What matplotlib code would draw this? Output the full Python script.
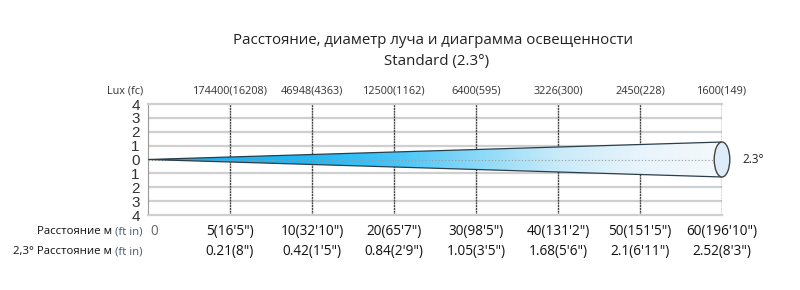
import numpy as np
import matplotlib.pyplot as plt
from matplotlib.patches import Polygon, Ellipse
from matplotlib.colors import LinearSegmentedColormap

plt.rcParams['font.family'] = ['Open Sans', 'DejaVu Sans']

## ------------  Data  ---------------
distance_m = [0, 5, 10, 20, 30, 40, 50, 60]
distance_lbl = ['0', "5(16'5\")", "10(32'10\")", "20(65'7\")", "30(98'5\")",
                "40(131'2\")", "50(151'5\")", "60(196'10\")"]
diameter_m = [0, 0.21, 0.42, 0.84, 1.05, 1.68, 2.1, 2.52]
diameter_lbl = ['', "0.21(8\")", "0.42(1'5\")", "0.84(2'9\")", "1.05(3'5\")",
                "1.68(5'6\")", "2.1(6'11\")", "2.52(8'3\")"]
lux_lbl = ['', '174400(16208)', '46948(4363)', '12500(1162)', '6400(595)',
           '3226(300)', '2450(228)', '1600(149)']
y_ticks = [-4, -3, -2, -1, 0, 1, 2, 3, 4]
beam_angle = '2.3°'

## ------------  Figure  ---------------
fig = plt.figure(figsize=(8, 2.9), dpi=100)
ax = fig.add_axes([148/800, 1-215/290, 574/800, 111/290])
n = len(distance_m) - 1
ax.set_xlim(0, n)
ax.set_ylim(-4, 4)

for y in y_ticks:
    if y == 0:
        ax.axhline(0, color='#999999', lw=0.8, ls=(0, (1, 2)), zorder=3)
    elif abs(y) < 4:
        ax.axhline(y, color='#cfcfcf', lw=1.6, zorder=1)
for i in range(1, n + 1):
    ax.axvline(i, color='#444444', lw=1.0, ls=(0, (1.5, 0.5)), zorder=1)

for s in ['top', 'bottom']:
    ax.spines[s].set_color('#cfcfcf')
    ax.spines[s].set_linewidth(1.6)
ax.spines['left'].set_color('#999999')
ax.spines['right'].set_visible(False)

ax.set_xticks([])
ax.set_yticks(y_ticks)
ax.set_yticklabels([str(abs(v)) for v in y_ticks], fontsize=11, color='#333333',
                   family=['Liberation Sans'])
ax.tick_params(axis='y', length=0, pad=6)

# beam cone, straight lines to last diameter
half = diameter_m[-1] / 2
cone = Polygon([[0, 0], [n, half], [n, -half]], closed=True, fc='none',
               ec='#2a3d4a', lw=0.9, zorder=4)
ax.add_patch(cone)
grad = np.linspace(0, 1, 512).reshape(1, -1)
stops = [(0.0, '#15aef0'), (2/7, '#22b8f4'), (3/7, '#45c5f9'), (4/7, '#8ad8f8'),
         (5/7, '#c9ebf9'), (6/7, '#e8f4fb'), (1.0, '#f4f9fc')]
cmap = LinearSegmentedColormap.from_list('beam', stops)
im = ax.imshow(grad, extent=[0, n, -half, half], aspect='auto', cmap=cmap, zorder=2)
im.set_clip_path(cone)
ax.add_patch(Ellipse((n, 0), 0.19, 2 * half, fc='#dcecf8', ec='#444444', lw=1.0,
                     zorder=5, clip_on=False))
ax.text(n + 0.25, 0, beam_angle, ha='left', va='center', fontsize=8.5, color='#222222')

# lux labels on top
for i, t in enumerate(lux_lbl):
    if t:
        ax.text(i, 4.95, t, ha='center', va='center', fontsize=7.8, color='#333333')
ax.text(-0.06, 4.95, 'Lux (fc)', ha='right', va='center', fontsize=7.8, color='#333333')

# bottom rows
for i in range(len(distance_m)):
    if i == 0:
        ax.text(0.03, -5.2, distance_lbl[i], ha='left', va='center', fontsize=9.8, color='#666666')
    else:
        ax.text(i, -5.2, distance_lbl[i], ha='center', va='center', fontsize=9.8, color='#111111')
        ax.text(i, -6.65, diameter_lbl[i], ha='center', va='center', fontsize=9.8, color='#111111')

t1 = ax.text(-0.07, -5.2, '(ft in)', ha='right', va='center', fontsize=8.2, color='#4a5a70')
ax.annotate('Расстояние м ', xy=(0, 0.5), xycoords=t1, ha='right', va='center',
            fontsize=8.2, color='#111111')
t2 = ax.text(-0.07, -6.65, '(ft in)', ha='right', va='center', fontsize=8.2, color='#4a5a70')
ax.annotate('2,3° Расстояние м ', xy=(0, 0.5), xycoords=t2, ha='right', va='center',
            fontsize=8.2, color='#111111')

fig.text(433/800, 1-40/290, 'Расстояние, диаметр луча и диаграмма освещенности',
         ha='center', va='center', fontsize=10.8, color='#222222')
fig.text(437/800, 1-62/290, 'Standard (2.3°)', ha='center', va='center',
         fontsize=10.8, color='#222222')

fig.savefig('out.png', dpi=100, facecolor='white')
